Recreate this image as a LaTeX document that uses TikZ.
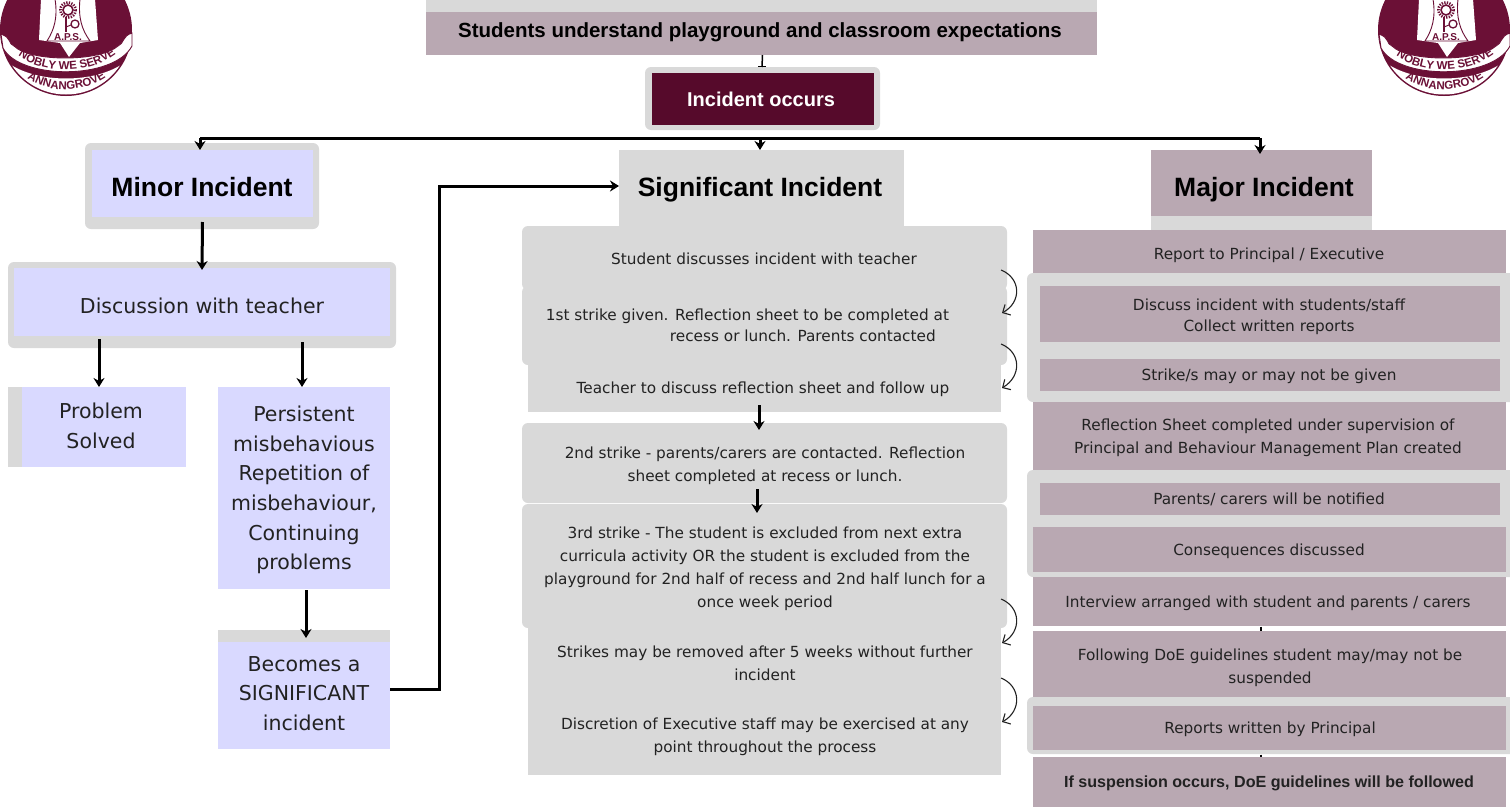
\documentclass[tikz,border=0pt]{standalone}
\usepackage{fontspec}
\setmainfont{DejaVu Sans}
\newfontfamily\arialf{Liberation Sans}
\usetikzlibrary{arrows.meta,decorations.text,calc}
\definecolor{mauve}{HTML}{B9A8B2}
\definecolor{pale}{HTML}{D9D9D9}
\definecolor{lav}{HTML}{D9D9FF}
\definecolor{wine}{HTML}{560A2B}
\definecolor{logoc}{HTML}{6B1036}
\definecolor{ink}{HTML}{222222}
\tikzset{
  x=1pt,y=-1pt,
  every node/.style={inner sep=0pt,outer sep=0pt,align=center,text=ink},
  mbox/.style={fill=mauve},
  pbox/.style={fill=pale},
  lbox/.style={fill=lav},
  rbox/.style={fill=pale,rounded corners=6pt},
  wbox/.style={fill=wine},
  body/.style={font=\fontsize{15.3}{23}\selectfont},
  tight/.style={font=\fontsize{15.3}{21}\selectfont},
  bodyl/.style={font=\fontsize{20.5}{29.6}\selectfont},
  head/.style={font=\arialf\bfseries\fontsize{26.5}{30}\selectfont,text=black},
  bold/.style={font=\arialf\bfseries\fontsize{20.5}{22}\selectfont,text=black},
  arr/.style={draw=black,line width=3pt,-{Stealth[length=9pt,width=11pt]}},
  curl/.style={draw=ink,line width=1.1pt,-{Straight Barb[length=6pt,width=12pt]}},
  stub/.style={draw=black,line width=1.5pt},
}
\newcommand\bx[6]{\node[#6,minimum width={#4pt-#2pt},minimum height={#5pt-#3pt}] (#1) at ({(#2+#4)/2},{(#3+#5)/2}) {};}
\newcommand\tx[5]{\node[#4] (#1) at (#2,#3) {#5};}
\newcommand\logo[2]{%
\begin{scope}[shift={(#1,0)}]
  \fill[logoc] (66,30) circle[radius=66];
  \begin{scope}
    \clip (66,30) circle[radius=64.5];
    \fill[white] (-5,50) .. controls (20,88) and (112,88) .. (137,50) -- (137,110) -- (-5,110) -- cycle;
  \end{scope}
  % bell
  \fill[white] (41,-1) -- (39,40) -- (60,43) -- (69,57) -- (80,43) -- (98,40) -- (95,-1) -- cycle;
  \draw[logoc,line width=.9pt,fill=white] (55,-1) .. controls (58,18) and (54,30) .. (47,41) -- (90,41) .. controls (82,30) and (78,18) .. (80,-1);
  % flower
  \draw[logoc,line width=1.6pt] (68,10) circle[radius=5];
  \draw[logoc,line width=2.6pt,dash pattern=on 1.3pt off 1.3pt] (68,10) circle[radius=7.6];
  \draw[logoc,line width=1.3pt] (66,17) -- (66,32);
  \draw[logoc,line width=1.3pt] (75,24) circle[radius=4];
  \draw[logoc,line width=1pt] (66,27) -- (71,25);
  \path (68,37.5) node[name=#2aps,text=logoc,font=\arialf\bfseries\fontsize{10}{10}\selectfont] {A.P.S.};
  % ribbon
  \fill[white,draw=logoc,line width=.9pt] (1,34) .. controls (12,38) and (8,44) .. (14,46) .. controls (30,62) and (100,62) .. (118,46) .. controls (124,44) and (122,36) .. (132,33) -- (132,46) .. controls (114,80) and (20,80) .. (3,48) -- cycle;
  \path[decorate,decoration={text along path,text align=center,
     text={|\arialf\bfseries\fontsize{11.5}{11.5}\selectfont\color{logoc}|NOBLY WE SERVE}}]
     (6,44) .. controls (32,79) and (100,79) .. (128,42);
  \path[decorate,decoration={text along path,text align=center,
     text={|\arialf\bfseries\fontsize{11.5}{11.5}\selectfont\color{logoc}|ANNANGROVE}}]
     (14,66) .. controls (38,97.5) and (94,97.5) .. (119,65);
\end{scope}}
\begin{document}
\begin{tikzpicture}
\useasboundingbox (0,0) rectangle (1510,809);
\fill[white] (0,0) rectangle (1510,809);
\begin{scope}
\clip (0,0) rectangle (1510,809);
\logo{0}{a}
\logo{1378}{b}
\end{scope}
% top
\bx{topg}{426}{0}{1097}{12}{pbox}
\bx{top}{426}{12}{1097}{55}{mbox}
\tx{topt}{760}{32}{bold}{Students understand playground and classroom expectations}
\bx{incg}{645}{67}{880}{130}{rbox}
\bx{inc}{652}{73}{874}{125}{wbox}
\tx{inct}{761}{99}{font=\arialf\bfseries\fontsize{20}{22}\selectfont,text=white}{Incident occurs}
\draw[stub] ($(top.south)+(1,0)$) -- ($(incg.north)+(-.5,0)$);
\draw[stub] ($(incg.north)+(-4.5,-.5)$) -- ($(incg.north)+(3.5,-.5)$);
% left column
\bx{ming}{85}{143}{319}{229}{rbox}
\bx{min}{92}{150}{313}{217}{lbox}
\tx{mint}{202}{187}{head}{Minor Incident}
\bx{disg}{8}{262}{396}{348}{rbox}
\bx{dis}{14}{268}{390}{336}{lbox}
\tx{dist}{202}{306}{bodyl}{Discussion with teacher}
\bx{psg}{8}{387}{22}{467}{pbox}
\bx{ps}{22}{387}{186}{467}{lbox}
\tx{pst}{101}{426}{bodyl}{Problem\\Solved}
\bx{per}{218}{387}{390}{589}{lbox}
\tx{pert}{304}{490}{bodyl}{Persistent\\misbehavious\\Repetition of\\misbehaviour,\\Continuing\\problems}
\bx{becg}{218}{630}{390}{642}{pbox}
\bx{bec}{218}{642}{390}{749}{lbox}
\tx{bect}{304}{693.5}{bodyl}{Becomes a\\SIGNIFICANT\\incident}
% centre column
\bx{sig}{619}{150}{904}{226}{pbox}
\tx{sigt}{760}{190}{head}{Significant Incident}
\bx{c1}{522}{226}{1007}{290}{rbox}
\tx{c1t}{764}{259}{body}{Student discusses incident with teacher}
\bx{c2}{522}{286}{1007}{365}{rbox}
\tx{c2t}{747.5}{325}{tight,align=left}{1st strike given. Reflection sheet to be completed at\\\hspace*{124pt}recess or lunch. Parents contacted}
\bx{c3}{528}{365}{1001}{412}{pbox}
\tx{c3t}{763}{389.5}{body}{Teacher to discuss reflection sheet and follow up}
\bx{c4}{522}{423}{1007}{503}{rbox}
\tx{c4t}{765}{465.5}{body}{2nd strike - parents/carers are contacted. Reflection\\sheet completed at recess or lunch.}
\bx{c5}{522}{504}{1007}{628}{rbox}
\tx{c5t}{765}{569}{body}{3rd strike - The student is excluded from next extra\\curricula activity OR the student is excluded from the\\playground for 2nd half of recess and 2nd half lunch for a\\once week period}
\bx{c6}{528}{628}{1001}{775}{pbox}
\tx{c6a}{765}{663.5}{body}{Strikes may be removed after 5 weeks without further\\incident}
\tx{c6b}{765}{737}{body}{Discretion of Executive staff may be exercised at any\\point throughout the process}
% right column
\bx{majg}{1151}{216}{1372}{230}{pbox}
\bx{maj}{1151}{150}{1372}{216}{mbox}
\tx{majt}{1264}{190}{head}{Major Incident}
\bx{r1}{1033}{230}{1506}{273}{mbox}
\tx{r1t}{1269}{255}{body}{Report to Principal / Executive}
\bx{rg1}{1027}{273}{1516}{402}{rbox}
\bx{r2}{1040}{286}{1500}{342}{mbox}
\tx{r2t}{1269}{316.5}{tight}{Discuss incident with students/staff\\Collect written reports}
\bx{r3}{1040}{359}{1500}{391}{mbox}
\tx{r3t}{1269}{376}{body}{Strike/s may or may not be given}
\bx{r4}{1033}{402}{1506}{470}{mbox}
\tx{r4t}{1268}{437.5}{body}{Reflection Sheet completed under supervision of\\Principal and Behaviour Management Plan created}
\bx{rg2}{1027}{470}{1516}{577}{rbox}
\bx{r5}{1040}{483}{1500}{515}{mbox}
\tx{r5t}{1269}{499.5}{body}{Parents/ carers will be notified}
\bx{r6}{1033}{527}{1506}{572}{mbox}
\tx{r6t}{1269}{551}{body}{Consequences discussed}
\bx{r7}{1033}{577}{1506}{626}{mbox}
\tx{r7t}{1268}{603}{body}{Interview arranged with student and parents / carers}
\bx{r8}{1033}{631}{1506}{697}{mbox}
\tx{r8t}{1270}{667.5}{body}{Following DoE guidelines student may/may not be\\suspended}
\bx{rg3}{1027}{697}{1516}{754}{rbox}
\bx{r9}{1033}{706}{1506}{750}{mbox}
\tx{r9t}{1270}{729}{body}{Reports written by Principal}
\bx{r10}{1033}{757}{1506}{807}{mbox}
\tx{r10t}{1269}{783.5}{font=\arialf\bfseries\fontsize{16.1}{18}\selectfont,text=ink}{If suspension occurs, DoE guidelines will be followed}
% connectors
\coordinate (tl) at (200,138);
\coordinate (tm) at (760,138);
\coordinate (tr) at (1260,138);
\draw[black,line width=3pt] (tl) -- (tr);
\draw[arr] (tl) -- (tl |- min.north);
\draw[arr] (tm) -- (tm |- sig.north);
\draw[arr] (tr) -- ($(tr |- maj.north)+(0,4)$);
\draw[arr] ($(min.south)+(0,5)$) -- ($(dis.north)+(0,2)$);
\coordinate (p1) at (99,339);
\coordinate (p2) at (302,342);
\draw[arr] (p1) -- (p1 |- ps.north);
\draw[arr] (p2) -- (p2 |- per.north);
\coordinate (p3) at (306,590);
\draw[arr] (p3) -- ($(p3 |- becg.north)+(0,8)$);
\coordinate (b0) at (390,689);
\coordinate (b1) at (439,689);
\coordinate (b2) at (439,186);
\coordinate (b3) at (619,186);
\draw[arr] (b0) -- (b1) -- (b2) -- (b3);
\coordinate (a1) at (759,405);
\coordinate (a2) at (757,489);
\draw[arr] (a1) -- ($(a1 |- c4.north)+(0,7)$);
\draw[arr] (a2) -- ($(a2 |- c5.north)+(0,9)$);
\draw[curl] (1001,270) .. controls (1021,278) and (1022,302) .. (1002,313);
\draw[curl] (1001,344) .. controls (1021,352) and (1022,376) .. (1002,388);
\draw[curl] (1001,599) .. controls (1021,607) and (1022,632) .. (1002,643);
\draw[curl] (1001,678) .. controls (1021,686) and (1022,711) .. (1002,722);
\coordinate (d1) at (1261,626.5);
\draw[black,line width=2pt] (d1) -- ++(0,4);
\coordinate (d2) at (1261,754.5);
\draw[black,line width=2pt] (d2) -- ++(0,2.5);
\end{tikzpicture}
\end{document}
